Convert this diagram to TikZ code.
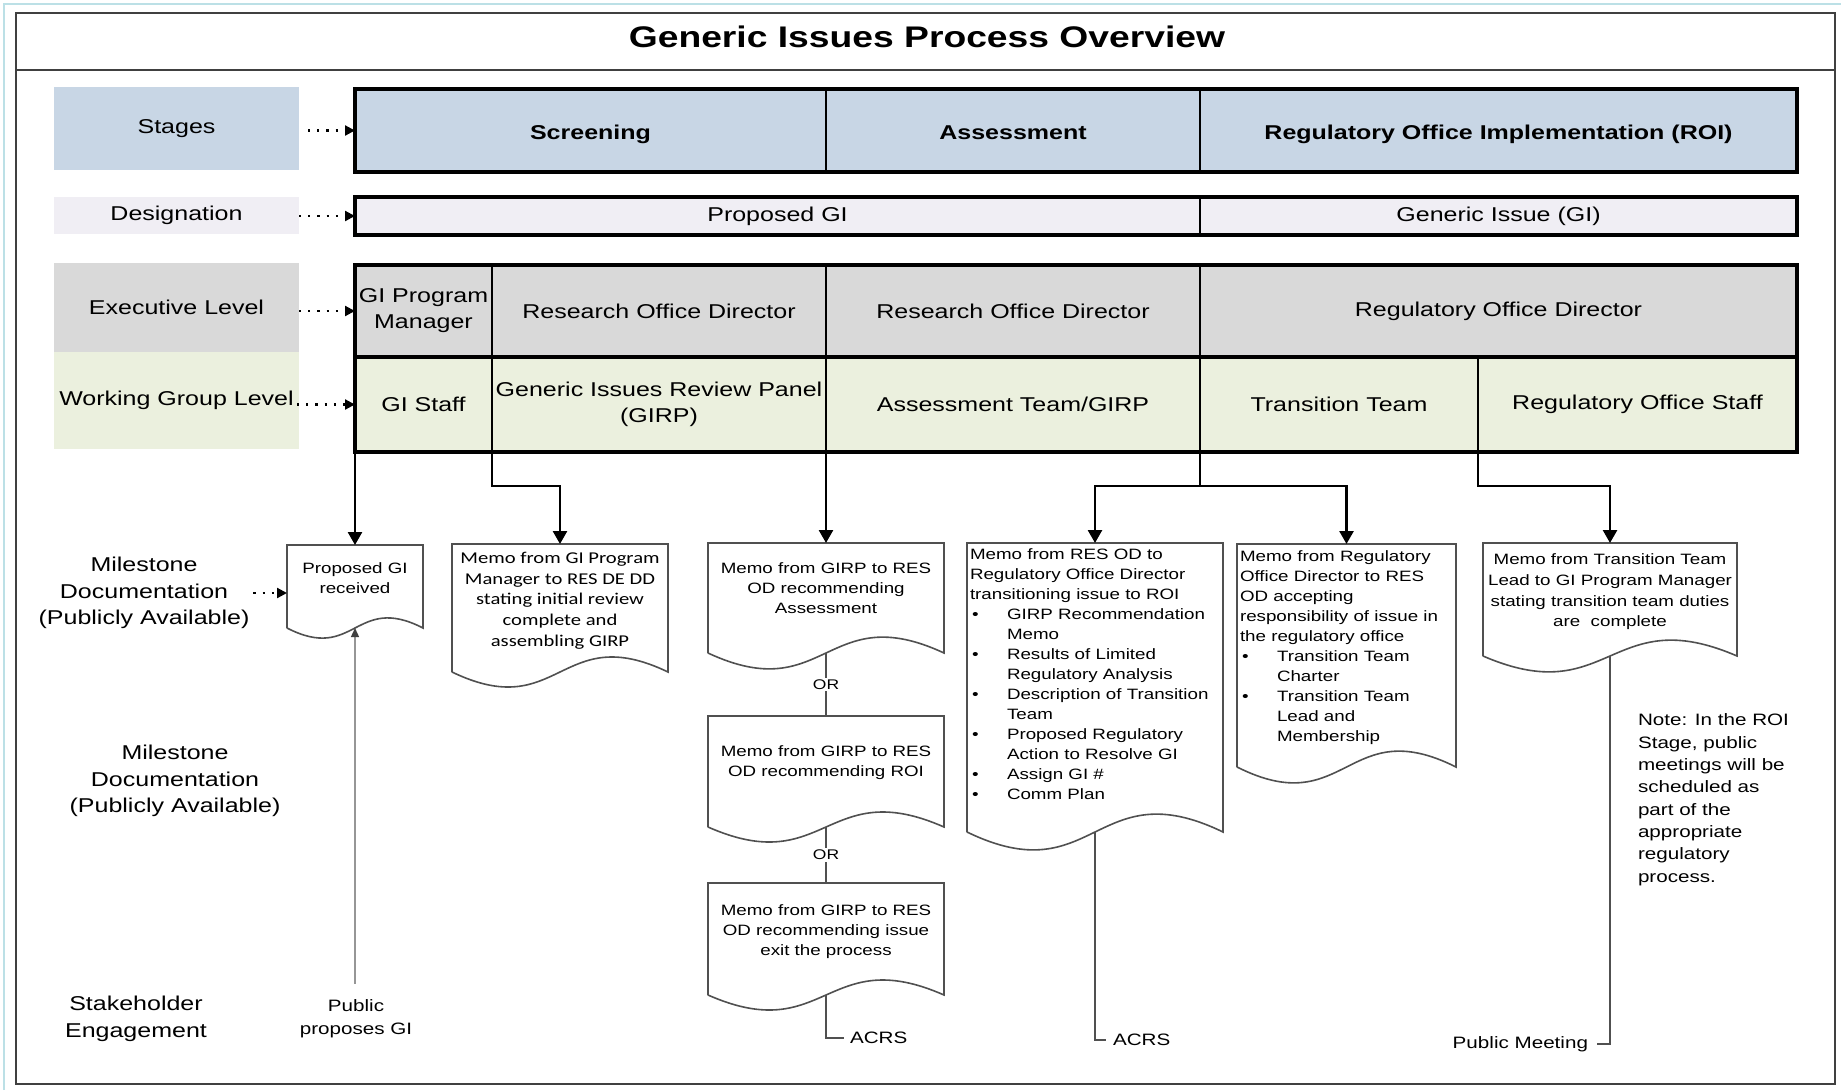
\documentclass[tikz,border=0pt]{standalone}
\usepackage{fontspec}
\setmainfont{Liberation Sans}[FakeStretch=1.25]
\newfontfamily\calfont{Carlito}[FakeStretch=1.25]
\usetikzlibrary{arrows.meta,positioning,calc}

\definecolor{stageblue}{RGB}{200,214,229}
\definecolor{desglav}{RGB}{240,238,244}
\definecolor{execgrey}{RGB}{217,217,217}
\definecolor{workgreen}{RGB}{235,240,222}
\definecolor{framecyan}{RGB}{188,224,230}
\definecolor{framegrey}{RGB}{64,64,64}
\definecolor{docgrey}{RGB}{80,80,80}
\definecolor{pubgrey}{RGB}{150,150,150}

\newcommand{\memobox}[4]{\parbox[c][#2][t]{#1}{\vspace*{#3}#4}}
\newcommand{\memobullet}{\hangindent=37pt\hangafter=1\makebox[37pt][l]{\hspace{2pt}\textbullet}}
\newcommand{\docshape}[2]{%
  \draw[docline] (#1.south west) -- (#1.north west) -- (#1.north east) -- (#1.south east)
    .. controls ($(#1.south)+(0,-#2)$) and ($(#1.south)+(0,#2)$) .. (#1.south west);}

\begin{document}
\begin{tikzpicture}[x=1pt, y=-1pt, node distance=0pt,
    every node/.style={outer sep=0pt},
    lbl/.style={inner sep=0pt, minimum width=245pt, align=center, font=\fontsize{20}{26}\selectfont},
    lowlbl/.style={inner sep=0pt, align=center, font=\fontsize{20}{26.5}\selectfont},
    cell/.style 2 args={draw, line width=2pt, inner sep=0pt, minimum width=#1, minimum height=#2,
                        align=center, font=\fontsize{20}{26}\selectfont},
    stagecell/.style 2 args={cell={#1}{#2}, fill=stageblue, text height=17pt, text depth=0pt,
                             font=\bfseries\fontsize{20}{26}\selectfont},
    rowframe/.style={line width=3.4pt},
    dotarrow/.style={line width=2.2pt, dash pattern=on 2.2pt off 7pt, -{Triangle[length=10pt,width=10pt]}},
    flow/.style={line width=2.6pt, -{Triangle[length=13pt,width=14pt]}},
    memo/.style={anchor=north, inner xsep=3pt, inner ysep=0pt, font=\fontsize{15}{20}\selectfont},
    docline/.style={draw=docgrey, line width=1.6pt},
    tailline/.style={draw=docgrey, line width=1.4pt},
    tagtext/.style={inner sep=2pt, font=\fontsize{16.5}{23}\selectfont},
    orlabel/.style={fill=white, inner sep=2pt, font=\fontsize{14}{16}\selectfont},
    publine/.style={draw=pubgrey, line width=1.4pt, -{Triangle[length=9pt,width=8pt,color=black!75]}}]

\useasboundingbox (0,0) rectangle (1841,1090);
\draw[framecyan, line width=2pt] (4,1090) -- (4,4) -- (1841,4);
\draw[framegrey, line width=2.6pt] (16,13) rectangle (1835,1084);
\draw[framegrey, line width=2.2pt] (16,70) -- (1835,70);
\node[font=\bfseries\fontsize{29.8}{36}\selectfont] (title) at (927,37) {Generic Issues Process Overview};

\node[lbl, fill=stageblue, minimum height=83pt] (stg) at (176.5,128.5) {Stages};
\node[lbl, fill=desglav, minimum height=37pt] (desg) at (176.5,215.5) {Designation};
\node[lbl, fill=execgrey, minimum height=89pt] (exe) at (176.5,307.5) {Executive Level};
\node[lbl, fill=workgreen, minimum height=97pt] (wrk) at (176.5,400.5) {Working Group Level};

\node[stagecell={471pt}{83pt}] (scr) at (590.5,130.5) {Screening};
\node[stagecell={374pt}{83pt}, right=of scr] (ass) {Assessment};
\node[stagecell={597pt}{83pt}, right=of ass] (roi) {Regulatory Office Implementation (ROI)};

\node[cell={845pt}{38pt}, fill=desglav] (pgi) at (777.5,216) {Proposed GI};
\node[cell={597pt}{38pt}, fill=desglav, right=of pgi] (gi) {Generic Issue (GI)};

\node[cell={137pt}{92pt}, fill=execgrey] (gpm) at (423.5,311) {GI Program\\Manager};
\node[cell={334pt}{92pt}, fill=execgrey, right=of gpm] (rod1) {Research Office Director};
\node[cell={374pt}{92pt}, fill=execgrey, right=of rod1] (rod2) {Research Office Director};
\node[cell={597pt}{92pt}, fill=execgrey, right=of rod2] (regd) {Regulatory Office Director};

\node[cell={137pt}{95pt}, fill=workgreen] (gis) at (423.5,404.5) {GI Staff};
\node[cell={334pt}{95pt}, fill=workgreen, right=of gis] (girp) {Generic Issues Review Panel\\(GIRP)};
\node[cell={374pt}{95pt}, fill=workgreen, right=of girp] (atg) {Assessment Team/GIRP};
\node[cell={278pt}{95pt}, fill=workgreen, right=of atg] (tt) {Transition Team};
\node[cell={319pt}{95pt}, fill=workgreen, right=of tt] (ros) {Regulatory Office Staff};

\draw[rowframe] (scr.north west) rectangle (roi.south east);
\draw[rowframe] (pgi.north west) rectangle (gi.south east);
\draw[rowframe] (gpm.north west) rectangle (ros.south east);
\draw[rowframe] (gis.north west) -- (ros.north east);

\draw[dotarrow, shorten <=9pt] (stg.east |- scr.west) -- (scr.west);
\draw[dotarrow] (desg.east |- pgi.west) -- (pgi.west);
\draw[dotarrow] (exe.east |- gpm.west) -- (gpm.west);
\draw[dotarrow, shorten <=-2pt] (wrk.east |- gis.west) -- (gis.west);

\node[memo] (d1) at (355,545) {\memobox{130pt}{83pt}{18pt}{\centering Proposed GI\\received}};
\node[memo, font=\calfont\fontsize{16.5}{20.7}\selectfont] (d2) at (560,544)
  {\memobox{210pt}{128pt}{8pt}{\centering Memo from GI Program\\Manager to RES DE DD\\stating initial review\\complete and\\assembling GIRP}};
\node[memo] (d3) at (826,543) {\memobox{230pt}{110pt}{20pt}{\centering Memo from GIRP to RES\\OD recommending\\Assessment}};
\node[memo] (d4) at (826,716) {\memobox{230pt}{111pt}{30pt}{\centering Memo from GIRP to RES\\OD recommending ROI}};
\node[memo] (d5) at (826,883) {\memobox{230pt}{112pt}{22pt}{\centering Memo from GIRP to RES\\OD recommending issue\\exit the process}};
\node[memo] (d6) at (1095,543) {\memobox{250pt}{289pt}{6pt}{\raggedright
  Memo from RES OD to\\Regulatory Office Director\\transitioning issue to ROI\par
  \memobullet GIRP Recommendation\newline Memo\par
  \memobullet Results of Limited\newline Regulatory Analysis\par
  \memobullet Description of Transition\newline Team\par
  \memobullet Proposed Regulatory\newline Action to Resolve GI\par
  \memobullet Assign GI \#\par
  \memobullet Comm Plan}};
\node[memo] (d7) at (1346.5,544) {\memobox{213pt}{223pt}{7pt}{\raggedright
  Memo from Regulatory\\Office Director to RES\\OD accepting\\responsibility of issue in\\the regulatory office\par
  \memobullet Transition Team\newline Charter\par
  \memobullet Transition Team\newline Lead and\newline Membership}};
\node[memo, font=\fontsize{15}{20.7}\selectfont] (d8) at (1610,543)
  {\memobox{248pt}{113pt}{11pt}{\centering Memo from Transition Team\\Lead to GI Program Manager\\stating transition team duties\\are\ \ complete}};

\docshape{d1}{35}
\docshape{d2}{52}
\docshape{d3}{55}
\docshape{d4}{52}
\docshape{d5}{52}
\docshape{d6}{62}
\docshape{d7}{55}
\docshape{d8}{55}

\draw[flow] (gis.south west) -- (d1.north);
\draw[flow] (girp.south west) -- ++(0,34) -| (d2.north);
\draw[flow] (atg.south west) -- (d3.north);
\draw[flow] (tt.south west) -- ++(0,34) -| (d6.north);
\draw[flow] (tt.south west) ++(0,34) -| (d7.north);
\draw[flow] (ros.south west) -- ++(0,34) -| (d8.north);

\draw[tailline] (d3.south) -- node[orlabel] (or1) {OR} (d4.north);
\draw[tailline] (d4.south) -- node[orlabel] (or2) {OR} (d5.north);

\node[tagtext, anchor=west, inner xsep=6pt] (acrs1) at (844,1038) {ACRS};
\draw[tailline] (d5.south) |- (acrs1.west);
\node[tagtext, anchor=west, inner xsep=7pt] (acrs2) at (1106,1040) {ACRS};
\draw[tailline] (d6.south) |- (acrs2.west);
\node[tagtext, anchor=east, inner xsep=9pt] (pmeet) at (1597,1044) {Public Meeting};
\draw[tailline] (d8.south) |- (pmeet.east);

\node[lowlbl] (ms1) at (144,593) {Milestone\\Documentation\\(Publicly Available)};
\draw[dotarrow, shorten <=4pt] (ms1.east) -- (ms1.east -| d1.west);
\node[lowlbl] (ms2) at (175,781) {Milestone\\Documentation\\(Publicly Available)};
\node[lowlbl] (stk) at (136,1019) {Stakeholder\\Engagement};

\node[tagtext, align=center] (pub) at (356,1019) {Public\\proposes GI};
\draw[publine, shorten <=14pt] (d1.south |- pub.north) -- (d1.south);

\node[anchor=north west, inner sep=0pt, align=left, font=\fontsize{16.5}{22.3}\selectfont] (note) at (1638,714)
  {Note: In the ROI\\Stage, public\\meetings will be\\scheduled as\\part of the\\appropriate\\regulatory\\process.};

\end{tikzpicture}
\end{document}
